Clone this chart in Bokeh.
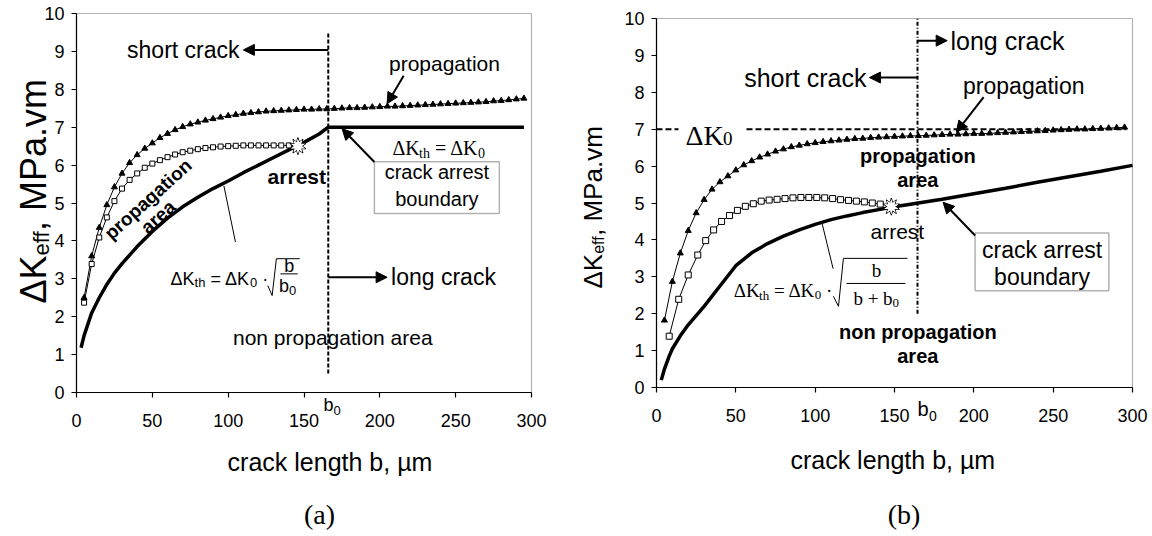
import math
from bokeh.plotting import figure
from bokeh.layouts import row
from bokeh.models import Label, Arrow, NormalHead, BoxAnnotation, Range1d, FixedTicker
from bokeh.embed import file_html
from bokeh.resources import INLINE

# ---------------- data ----------------
x_ticks = [0, 50, 100, 150, 200, 250, 300]
y_ticks = [0, 1, 2, 3, 4, 5, 6, 7, 8, 9, 10]

b0_a = 166.0
b0_b = 164.5
dK0 = 7.0

# panel (a)
a_tri_b = list(range(5, 300, 5))
a_tri_k = [2.50, 3.60, 4.35, 4.95, 5.42, 5.78, 6.06, 6.27, 6.44, 6.58,
           6.72, 6.83, 6.93, 7.01, 7.08, 7.13, 7.18, 7.22, 7.26, 7.30,
           7.33, 7.36, 7.38, 7.40, 7.42, 7.43, 7.44, 7.45, 7.46, 7.47,
           7.47, 7.48, 7.48, 7.49, 7.50, 7.51, 7.51, 7.52, 7.53, 7.54,
           7.55, 7.55, 7.56, 7.57, 7.58, 7.59, 7.60, 7.61, 7.62, 7.63,
           7.64, 7.65, 7.66, 7.67, 7.69, 7.70, 7.72, 7.74, 7.76]
a_sq_b = list(range(5, 145, 5))
a_sq_k = [2.37, 3.39, 4.09, 4.62, 5.05, 5.38, 5.61, 5.78, 5.93, 6.04,
          6.13, 6.21, 6.28, 6.34, 6.38, 6.42, 6.45, 6.47, 6.49, 6.50,
          6.51, 6.52, 6.52, 6.52, 6.52, 6.52, 6.52, 6.52]
a_th_b = [3, 5, 10, 15, 20, 25, 30, 40, 50, 60, 70, 80, 90, 100, 110, 120,
          130, 140, 150, 160, 166, 295]
a_th_k = [1.18, 1.50, 2.10, 2.50, 2.85, 3.15, 3.40, 3.85, 4.25, 4.60, 4.90,
          5.15, 5.38, 5.58, 5.80, 6.00, 6.20, 6.40, 6.60, 6.82, 7.00, 7.00]
a_arrest_b = [146]
a_arrest_k = [6.50]

# panel (b)
b_tri_b = list(range(5, 300, 5))
b_tri_k = [1.82, 2.87, 3.64, 4.25, 4.73, 5.09, 5.37, 5.57, 5.73, 5.89,
           6.03, 6.14, 6.24, 6.32, 6.40, 6.46, 6.52, 6.56, 6.60, 6.63,
           6.66, 6.68, 6.70, 6.72, 6.74, 6.75, 6.77, 6.78, 6.79, 6.80,
           6.81, 6.82, 6.82, 6.83, 6.84, 6.85, 6.86, 6.86, 6.87, 6.88,
           6.88, 6.89, 6.90, 6.91, 6.92, 6.93, 6.94, 6.95, 6.96, 6.97,
           6.98, 6.99, 7.00, 7.00, 7.01, 7.02, 7.03, 7.04, 7.05]
b_sq_b = [8, 14, 20, 26, 31, 36, 41, 46, 51, 56, 61, 66, 71, 76, 81, 86, 91,
          96, 101, 106, 111, 116, 121, 126, 131, 136, 141]
b_sq_k = [1.39, 2.39, 3.05, 3.59, 3.98, 4.27, 4.50, 4.66, 4.80, 4.91, 4.98,
          5.05, 5.08, 5.10, 5.12, 5.14, 5.15, 5.15, 5.15, 5.14, 5.12, 5.09,
          5.07, 5.05, 5.03, 5.00, 4.97]
b_th_b = [3, 5, 8, 10, 15, 20, 25, 30, 40, 50, 60, 70, 80, 90, 100, 110, 120,
          130, 140, 150, 165, 180, 200, 220, 240, 260, 280, 300]
b_th_k = [0.20, 0.50, 0.85, 1.05, 1.40, 1.70, 1.95, 2.20, 2.75, 3.30, 3.65,
          3.90, 4.10, 4.27, 4.42, 4.55, 4.65, 4.74, 4.82, 4.90, 5.00, 5.10,
          5.25, 5.40, 5.56, 5.71, 5.86, 6.02]
b_arrest_b = [148]
b_arrest_k = [4.90]

SANS = "Liberation Sans"
SERIF = "Liberation Serif"

W_SANS = {'Δ': 0.668, 'K': 0.667, 't': 0.278, 'h': 0.556, 'e': 0.556, 'f': 0.278,
          ' ': 0.278, ',': 0.278, 'M': 0.833, 'P': 0.667, 'a': 0.556, '.': 0.278,
          'v': 0.5, 'm': 0.833, '=': 0.584, '·': 0.278, '0': 0.556, 'b': 0.556}
W_SERIF = {'Δ': 0.612, 'K': 0.722, 't': 0.278, 'h': 0.5, ' ': 0.25, '=': 0.564,
           '0': 0.5, '·': 0.25, 'b': 0.5, '+': 0.564}

CW, CH = 576, 536   # canvas of each panel


def tw(text, size, table):
    return sum(table.get(c, 0.5) for c in text) * size


class Panel:
    """Axes box (in canvas pixels) -> extended data ranges, axes fixed at 0."""

    def __init__(self, off, X0, X1, Y0, Y1):
        self.off, self.X0, self.Y0 = off, X0, Y0
        self.sx = (X1 - X0) / 300.0
        self.sy = (Y0 - Y1) / 10.0
        xr = Range1d(-X0 / self.sx, 300 + (CW - X1) / self.sx)
        yr = Range1d(-(CH - Y0) / self.sy, 10 + Y1 / self.sy)
        p = figure(width=CW, height=CH, x_range=xr, y_range=yr,
                   output_backend="svg", toolbar_location=None, title=None,
                   min_border_left=0, min_border_right=0, min_border_top=0,
                   min_border_bottom=0)
        p.background_fill_color = "white"
        p.border_fill_color = "white"
        p.outline_line_color = None
        p.xgrid.visible = False
        p.ygrid.visible = False
        for ax in (p.xaxis[0], p.yaxis[0]):
            ax.fixed_location = 0
            ax.axis_line_color = "black"
            ax.axis_line_width = 1.2
            ax.major_tick_line_color = "black"
            ax.major_tick_line_width = 1.2
            ax.major_tick_out = 5
            ax.major_tick_in = 0
            ax.minor_tick_line_color = None
            ax.major_label_text_font = SANS
            ax.major_label_text_font_size = "18px"
            ax.major_label_text_color = "black"
        p.xaxis.bounds = (0, 300)
        p.yaxis.bounds = (0, 10)
        p.xaxis.ticker = FixedTicker(ticks=x_ticks)
        p.yaxis.ticker = FixedTicker(ticks=y_ticks)
        p.xaxis.major_label_standoff = 16
        p.yaxis.major_label_standoff = 7
        p.add_layout(BoxAnnotation(left=0, right=300, bottom=0, top=10,
                                   fill_alpha=0, line_color="black", line_width=1.2))
        self.p = p

    def d(self, X, Y):
        """page pixel -> data"""
        return (X - self.off - self.X0) / self.sx, (self.Y0 - Y) / self.sy


def lab(p, x, y, text, size, font=SANS, style="normal", align="left",
        base="alphabetic", dx=0, dy=0, angle=0, bg=None):
    p.add_layout(Label(x=x, y=y, text=text, text_font=font,
                       text_font_size=f"{size}px", text_font_style=style,
                       text_align=align, text_baseline=base, x_offset=dx,
                       y_offset=dy, angle=angle, text_color="black",
                       background_fill_color=bg))


def rich(p, x, y, pieces, font, table, angle=0, align="left", base="alphabetic"):
    total = sum(tw(t, s, table) for t, s, _ in pieces)
    off = -total / 2 if align == "center" else 0
    for t, s, sh in pieces:
        lead = len(t) - len(t.lstrip(" "))
        off += lead * table[" "] * s
        core = t.strip(" ")
        if angle == 0:
            lab(p, x, y, core, s, font, dx=off, dy=-sh, base=base)
        else:
            lab(p, x, y, core, s, font, dx=sh, dy=off, angle=angle, base=base)
        off += tw(t.lstrip(" "), s, table)


def arrow(p, x0, y0, x1, y1):
    p.add_layout(Arrow(end=NormalHead(size=11, fill_color="black", line_color="black",
                                      line_width=1),
                       x_start=x0, y_start=y0, x_end=x1, y_end=y1,
                       line_width=2, line_color="black"))


def seg(p, xs, ys, w=1, dash="solid"):
    p.line(xs, ys, line_color="black", line_width=w, line_dash=dash)


def burst(p, xs, ys):
    for ang in (0, math.pi / 5):
        p.scatter(xs, ys, marker="star", size=17, angle=ang, fill_color="white",
                  line_color="black", line_width=1)
    for ang in (0, math.pi / 5):
        p.scatter(xs, ys, marker="star", size=15, angle=ang, fill_color="white",
                  line_color=None)


# ================= panel (a) =================
A = Panel(0, 76, 531, 392, 13)
pa = A.p

seg(pa, [b0_a, b0_a], [0.5, 9.5], w=2, dash="4 2")
pa.line(a_th_b, a_th_k, line_color="black", line_width=3.5)
pa.line(a_tri_b, a_tri_k, line_color="black", line_width=1)
pa.scatter(a_tri_b, a_tri_k, marker="triangle", size=6, fill_color="black",
           line_color="black")
pa.line(a_sq_b, a_sq_k, line_color="black", line_width=1)
pa.scatter(a_sq_b, a_sq_k, marker="square", size=5, fill_color="white",
           line_color="black", line_width=1)
burst(pa, a_arrest_b, a_arrest_k)

lab(pa, 107.5, 9.04, "short crack", 23, align="right", base="middle")
arrow(pa, b0_a, 9.04, 110, 9.04)
lab(pa, 242.6, 8.67, "propagation", 21, align="center", base="middle")
arrow(pa, 215.7, 8.36, 204.8, 7.62)
rich(pa, 208.3, 6.45, [("ΔK", 20, 0), ("th", 14, 5), (" = ΔK", 20, 0), ("0", 14, 5)],
     SERIF, W_SERIF)
pa.add_layout(BoxAnnotation(left=196.4, right=278.8, bottom=4.72, top=6.09,
                            fill_color="white", fill_alpha=1, line_color="black",
                            line_width=1.5))
lab(pa, 237.6, 5.81, "crack arrest", 20, align="center", base="middle")
lab(pa, 237.6, 5.11, "boundary", 20, align="center", base="middle")
arrow(pa, 196.4, 6.08, 175.1, 6.96)
lab(pa, 207.4, 3.04, "long crack", 23, align="left", base="middle")
arrow(pa, b0_a, 3.04, 204.8, 3.04)
lab(pa, 169, 1.44, "non propagation area", 21, align="center", base="middle")
lab(pa, 164.5, 5.69, "arrest", 21, style="bold", align="right", base="middle")
lab(pa, 47.2, 5.10, "propagation", 19, style="bold", align="center", base="middle",
    angle=math.radians(42))
lab(pa, 53.8, 4.63, "area", 19, style="bold", align="center", base="middle",
    angle=math.radians(42))

# formula sqrt(b/b0)
rich(pa, 62, 3.0, [("ΔK", 18, 0), ("th", 13, 4), (" = ΔK", 18, 0), ("0", 13, 4),
                   (" ·", 18, 0)], SANS, W_SANS)
seg(pa, [126.1, 129.0, 131.8, 147.2], [2.82, 2.56, 3.53, 3.53], w=1)
seg(pa, [134.5, 145.9], [3.13, 3.13], w=1)
lab(pa, 140.3, 3.33, "b", 18, align="center", base="middle")
lab(pa, 133.5, 2.80, "b", 18, align="left", base="middle")
lab(pa, 133.5, 2.80, "0", 13, align="left", base="middle", dx=10, dy=-4)
seg(pa, [97.2, 104.8], [5.45, 3.97], w=1)

# texts around the axes box
x, y = A.d(328, 404)
lab(pa, x, y, "b", 18, align="center", base="middle")
lab(pa, x, y, "0", 13, align="left", base="middle", dx=5, dy=-6)
x, y = A.d(329.5, 461)
lab(pa, x, y, "crack length b, µm", 25, align="center", base="middle")
x, y = A.d(319, 514)
lab(pa, x, y, "(a)", 28, font=SERIF, align="center", base="middle")
x, y = A.d(33, 303)
rich(pa, x, y, [("ΔK", 36, 0), ("eff", 22, 8), (", MPa.vm", 36, 0)],
     SANS, W_SANS, angle=math.pi / 2)

# ================= panel (b) =================
B = Panel(576, 80, 556, 387, 18)
pb = B.p

seg(pb, [b0_b, b0_b], [2.0, 10.0], w=2, dash="4 2 1 2")
seg(pb, [0, 296], [dK0, dK0], w=2, dash="6 3")
pb.add_layout(BoxAnnotation(left=13.9, right=56, bottom=6.8, top=7.2,
                            fill_color="white", fill_alpha=1, line_color=None))
pb.line(b_th_b, b_th_k, line_color="black", line_width=3.5)
pb.line(b_tri_b, b_tri_k, line_color="black", line_width=1)
pb.scatter(b_tri_b, b_tri_k, marker="triangle", size=6, fill_color="black",
           line_color="black")
pb.line(b_sq_b, b_sq_k, line_color="black", line_width=1)
pb.scatter(b_sq_b, b_sq_k, marker="square", size=6, fill_color="white",
           line_color="black", line_width=1)
burst(pb, b_arrest_b, b_arrest_k)

rich(pb, 18.3, 6.83, [("ΔK", 28, 0), ("0", 19, 3)], SERIF, W_SERIF)
lab(pb, 185.3, 9.40, "long crack", 25, align="left", base="middle")
arrow(pb, b0_b, 9.40, 183.2, 9.40)
lab(pb, 132.3, 8.40, "short crack", 25, align="right", base="middle")
arrow(pb, b0_b, 8.40, 134.2, 8.40)
lab(pb, 231.5, 8.18, "propagation", 23, align="center", base="middle")
arrow(pb, 206.2, 7.87, 189, 6.92)
lab(pb, 164.7, 6.28, "propagation", 20, style="bold", align="center", base="middle")
lab(pb, 164.7, 5.63, "area", 20, style="bold", align="center", base="middle")
lab(pb, 151.8, 4.24, "arrest", 21, align="center", base="middle")
pb.add_layout(BoxAnnotation(left=200.8, right=285.1, bottom=2.62, top=4.19,
                            fill_color="white", fill_alpha=1, line_color="black",
                            line_width=1.5))
lab(pb, 243, 3.73, "crack arrest", 23, align="center", base="middle")
lab(pb, 243, 2.99, "boundary", 23, align="center", base="middle")
arrow(pb, 200.8, 4.12, 180.6, 5.02)
lab(pb, 164.7, 1.51, "non propagation", 20, style="bold", align="center", base="middle")
lab(pb, 164.7, 0.86, "area", 20, style="bold", align="center", base="middle")

# formula sqrt(b/(b+b0))
rich(pb, 48.7, 2.63, [("ΔK", 19, 0), ("th", 13, 5), (" = ΔK", 19, 0), ("0", 13, 5),
                      (" ·", 19, 0)], SERIF, W_SERIF)
seg(pb, [111.5, 114.7, 117.8, 158.2], [2.47, 2.20, 3.50, 3.50], w=1)
seg(pb, [119.7, 156.9], [2.82, 2.82], w=1)
lab(pb, 138.6, 3.17, "b", 19, font=SERIF, align="center", base="middle")
rich(pb, 124.1, 2.41, [("b + b", 19, 0), ("0", 13, 4)], SERIF, W_SERIF, base="middle")
seg(pb, [104.4, 111.3], [4.44, 3.22], w=1)

x, y = B.d(922.5, 408)
lab(pb, x, y, "b", 20, align="center", base="middle")
lab(pb, x, y, "0", 14, align="left", base="middle", dx=6, dy=-7)
x, y = B.d(892.3, 459.5)
lab(pb, x, y, "crack length b, µm", 25, align="center", base="middle")
x, y = B.d(903.5, 514)
lab(pb, x, y, "(b)", 28, font=SERIF, align="center", base="middle")
x, y = B.d(592, 288)
rich(pb, x, y, [("ΔK", 26, 0), ("eff", 16, 6), (", MPa.vm", 26, 0)],
     SANS, W_SANS, angle=math.pi / 2)

layout = row(pa, pb)
open("out.html", "w").write(file_html(layout, INLINE))
